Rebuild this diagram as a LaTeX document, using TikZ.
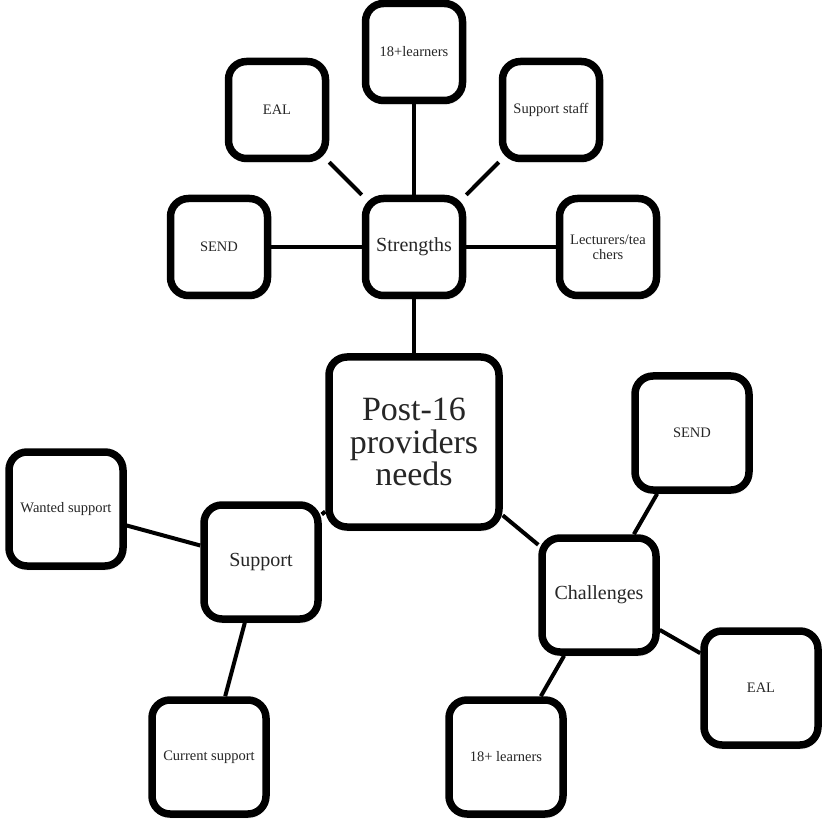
\documentclass[tikz,border=0pt]{standalone}
\usepackage{fontspec}
\setmainfont{Liberation Serif}
\usetikzlibrary{shadows.blur}
\begin{document}
\begin{tikzpicture}[x=1pt,y=-1pt,
  box/.style={draw=black, line width=7.5pt, rounded corners=18pt, fill=white,
    align=center, text=black!85, inner sep=2pt,
    blur shadow={shadow xshift=1pt, shadow yshift=-3pt, shadow blur steps=6, shadow opacity=30}},
  smallbox/.style={box, minimum width=97pt, minimum height=97pt,
    font=\fontsize{14.5}{15}\selectfont},
  midbox/.style={box, minimum width=114pt, minimum height=114pt,
    font=\fontsize{14.5}{15}\selectfont},
  hubbox/.style={box, minimum width=97pt, minimum height=97pt,
    font=\fontsize{20}{22}\selectfont},
  hubboxlow/.style={box, minimum width=114pt, minimum height=114pt,
    font=\fontsize{20}{22}\selectfont},
  rootbox/.style={box, minimum width=170pt, minimum height=170pt,
    font=\fontsize{34}{32.5}\selectfont},
  link/.style={draw=black, line width=4pt}]
\useasboundingbox (0,0) rectangle (823,821);

% centre of the diagram
\node[rootbox] (root) at (414,442) {Post-16\\providers\\needs};

% strengths branch
\node[hubbox] (str) at (414,247) {Strengths};
\node[smallbox] (s18) at (414,52) {18+learners};
\node[smallbox] (seal) at (277,110) {EAL};
\node[smallbox] (sstaff) at (551,110) {Support staff};
\node[smallbox] (ssend) at (219,247) {SEND};
\node[smallbox] (slect) at (608,247) {Lecturers/tea\\chers};

% support branch
\node[hubboxlow] (sup) at (261,562) {Support};
\node[midbox] (want) at (66,509) {Wanted support};
\node[midbox] (curr) at (209,757) {Current support};

% challenges branch
\node[hubboxlow] (chal) at (599,595) {Challenges};
\node[midbox] (csend) at (692,433) {SEND};
\node[midbox] (ceal) at (761,688) {EAL};
\node[midbox] (c18) at (506,757) {18+ learners};

% connectors
\draw[link] (root) -- (str);
\draw[link] (str) -- (s18);
\draw[link] (str) -- (seal);
\draw[link] (str) -- (sstaff);
\draw[link] (str) -- (ssend);
\draw[link] (str) -- (slect);
\draw[link] (root) -- (sup);
\draw[link] (sup) -- (want);
\draw[link] (sup) -- (curr);
\draw[link] (root) -- (chal);
\draw[link] (chal) -- (csend);
\draw[link] (chal) -- (ceal);
\draw[link] (chal) -- (c18);
\end{tikzpicture}
\end{document}
